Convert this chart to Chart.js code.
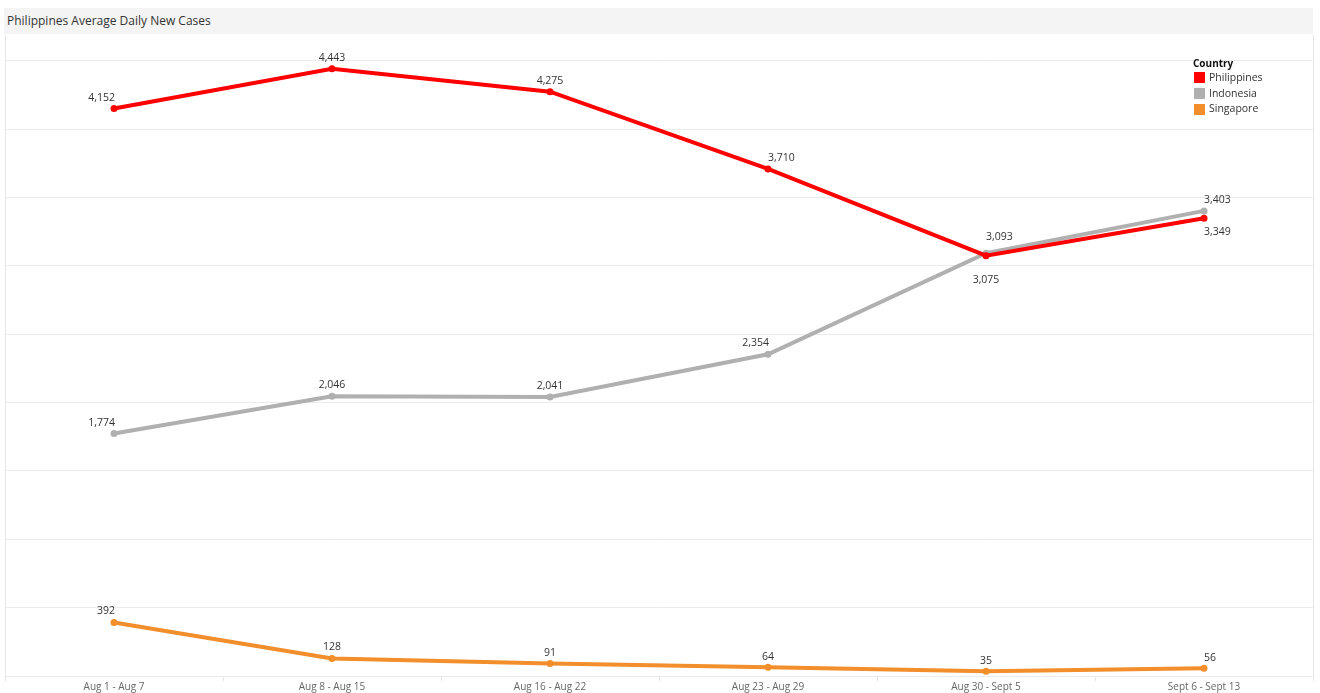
<!DOCTYPE html>
<html>
<head>
<meta charset="utf-8">
<script src="https://cdn.jsdelivr.net/npm/chart.js@4.4.0/dist/chart.umd.min.js"></script>
<style>
  html, body { margin: 0; padding: 0; background: #fff; }
  #wrap { position: relative; width: 1320px; height: 693px; overflow: hidden; }
  #title { position: absolute; left: 4px; top: 8px; width: 1309px; height: 26px; background: #f4f4f4;
           font-family: "Open Sans", sans-serif; font-size: 12px; color: #333; line-height: 26px; padding-left: 3px; box-sizing: border-box; }
  #legend { position: absolute; left: 1193px; top: 56px; font-family: "Open Sans", sans-serif; font-size: 10.5px; color: #333; }
  #legend .hd { font-weight: bold; color: #111; height: 14px; line-height: 14px; font-size: 10px; }
  #legend .it { height: 15.7px; line-height: 15.7px; display: flex; align-items: center; }
  #legend .sw { width: 11px; height: 11px; margin-left: 1px; margin-right: 4px; }
  canvas { position: absolute; left: 0; top: 0; }
</style>
</head>
<body>
<div id="wrap">
  <canvas id="c" width="1320" height="693"></canvas>
  <div id="title">Philippines Average Daily New Cases</div>
  <div id="legend"></div>
</div>
<script>
const categories = ['Aug 1 - Aug 7', 'Aug 8 - Aug 15', 'Aug 16 - Aug 22', 'Aug 23 - Aug 29', 'Aug 30 - Sept 5', 'Sept 6 - Sept 13'];
const countries = ['Philippines', 'Indonesia', 'Singapore'];
const philippines = [4152, 4443, 4275, 3710, 3075, 3349];
const indonesia = [1774, 2046, 2041, 2354, 3093, 3403];
const singapore = [392, 128, 91, 64, 35, 56];
const gridValues = [0, 500, 1000, 1500, 2000, 2500, 3000, 3500, 4000, 4500];

const colors = ['#ff0000', '#b0b0b0', '#f28e2b'];

// label placement: horizontal alignment relative to point and vertical offset
const labelPlacement = [
  [['right', -11], ['center', -11], ['center', -11], ['left', -11], ['center', 24], ['left', 14]],
  [['right', -11], ['center', -11], ['center', -11], ['right', -11], ['left', -16], ['left', -11]],
  [['right', -11], ['center', -11], ['center', -11], ['center', -10], ['center', -10], ['left', -10]]
];

const legendEl = document.getElementById('legend');
legendEl.innerHTML = '<div class="hd">Country</div>' + countries.map((c, i) =>
  '<div class="it"><span class="sw" style="background:' + colors[i] + '"></span>' + c + '</div>').join('');

const labelPlugin = {
  id: 'pointLabels',
  afterDatasetsDraw(chart) {
    const ctx = chart.ctx;
    ctx.save();
    ctx.font = '10.5px "Open Sans", sans-serif';
    ctx.fillStyle = '#333';
    ctx.textBaseline = 'middle';
    chart.data.datasets.forEach((ds, di) => {
      const meta = chart.getDatasetMeta(di);
      meta.data.forEach((pt, i) => {
        const [al, dy] = labelPlacement[di][i];
        const txt = ds.data[i].toLocaleString('en-US');
        ctx.textAlign = al;
        const dx = al === 'right' ? 1 : 0;
        ctx.fillText(txt, pt.x + dx, pt.y + dy);
      });
    });
    ctx.restore();
  }
};

const seriesData = [philippines, indonesia, singapore];

new Chart(document.getElementById('c'), {
  type: 'line',
  data: {
    labels: categories,
    datasets: countries.map((c, i) => ({
      label: c,
      data: seriesData[i],
      borderColor: colors[i],
      backgroundColor: colors[i],
      borderWidth: 4,
      pointRadius: 3.5,
      pointHoverRadius: 3.5,
      pointBorderWidth: 0,
      tension: 0
    }))
  },
  options: {
    responsive: false,
    animation: false,
    layout: { padding: { left: 5, right: 7, top: 35, bottom: 0 } },
    plugins: {
      legend: { display: false },
      title: { display: false },
      tooltip: { enabled: false }
    },
    scales: {
      x: {
        offset: true,
        grid: { offset: true, drawOnChartArea: false, drawTicks: true, tickLength: 5, color: '#e4e4e4' },
        border: { display: true, color: '#ececec' },
        ticks: { font: { family: '"Open Sans", sans-serif', size: 10 }, color: '#666', padding: 0, maxRotation: 0, autoSkip: false },
        afterFit(scale) { scale.height = 17; }
      },
      y: {
        min: 0, max: 4690,
        afterBuildTicks(scale) { scale.ticks = gridValues.map(v => ({ value: v })); },
        ticks: { display: false },
        grid: { drawTicks: false, tickLength: 0, color: '#ebebeb', lineWidth: 1 },
        border: { display: true, color: '#e6e6e6' },
        afterFit(scale) { scale.width = 0; }
      },
      y2: {
        position: 'right',
        min: 0, max: 4690,
        ticks: { display: false },
        grid: { drawOnChartArea: false, drawTicks: false, tickLength: 0 },
        border: { display: true, color: '#e6e6e6' },
        afterFit(scale) { scale.width = 0; }
      }
    }
  },
  plugins: [labelPlugin]
});
</script>
</body>
</html>
